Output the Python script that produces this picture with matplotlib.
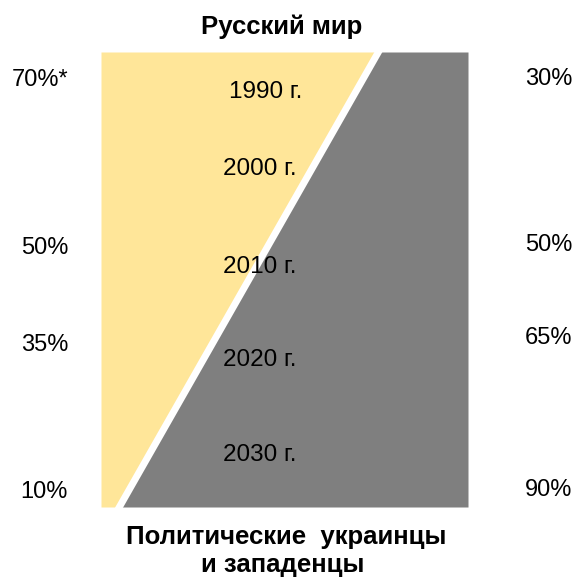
import matplotlib
matplotlib.use("Agg")
import matplotlib.pyplot as plt
import numpy as np

plt.rcParams['font.family'] = ['Liberation Sans', 'DejaVu Sans']

# данные
years = [1990, 2000, 2010, 2020, 2030]
year_labels = ['1990 г.', '2000 г.', '2010 г.', '2020 г.', '2030 г.']
left_labels = ['70%*', '50%', '35%', '10%']
right_labels = ['30%', '50%', '65%', '90%']
# граница "русский мир" / западенцы, доля по ширине (%) сверху и снизу
edge_top = 76
edge_bottom = 4.6

yellow = '#FFE699'
gray = '#7F7F7F'

fig = plt.figure(figsize=(5.76, 5.78), dpi=100)
ax = fig.add_axes([101/576, 1-507/578, 367/576, 455/578])
y0, y1 = 2035.7, 1985.6
ax.set_xlim(0, 100)
ax.set_ylim(y0, y1)
ax.axis('off')

yy = np.array([y1, y0])
xb = np.array([edge_top, edge_bottom])
ax.fill_betweenx(yy, 0, xb, color=yellow, lw=0)
ax.fill_betweenx(yy, xb, 100, color=gray, lw=0)
ax.plot([edge_top+1.0, edge_bottom-1.0], [y1-1.0, y0+1.0], color='white', lw=5,
        solid_capstyle='butt', clip_on=False)

xoff = [44.8, 43.2, 43.2, 43.2, 43.2]
yoff = [0, -1.5, -0.7, -0.5, 0]
for y, lab, xo, yo in zip(years, year_labels, xoff, yoff):
    ax.text(xo, y+yo, lab, ha='center', va='center', fontsize=17.5)

left_y = [80, 248, 345, 492]
right_y = [79, 245, 338, 490]
for lab, py in zip(left_labels, left_y):
    fig.text(68/576, 1-py/578, lab, ha='right', va='center', fontsize=17)
for lab, py in zip(right_labels, right_y):
    fig.text(572/576, 1-py/578, lab, ha='right', va='center', fontsize=17)

fig.text(282/576, 1-27/578, 'Русский мир', ha='center', va='center',
         fontsize=18.5, fontweight='bold')
fig.text(286/576, 1-537/578, 'Политические  украинцы', ha='center', va='center',
         fontsize=18.5, fontweight='bold')
fig.text(283/576, 1-565/578, 'и западенцы', ha='center', va='center',
         fontsize=18.5, fontweight='bold')

fig.savefig('out.png', dpi=100)
